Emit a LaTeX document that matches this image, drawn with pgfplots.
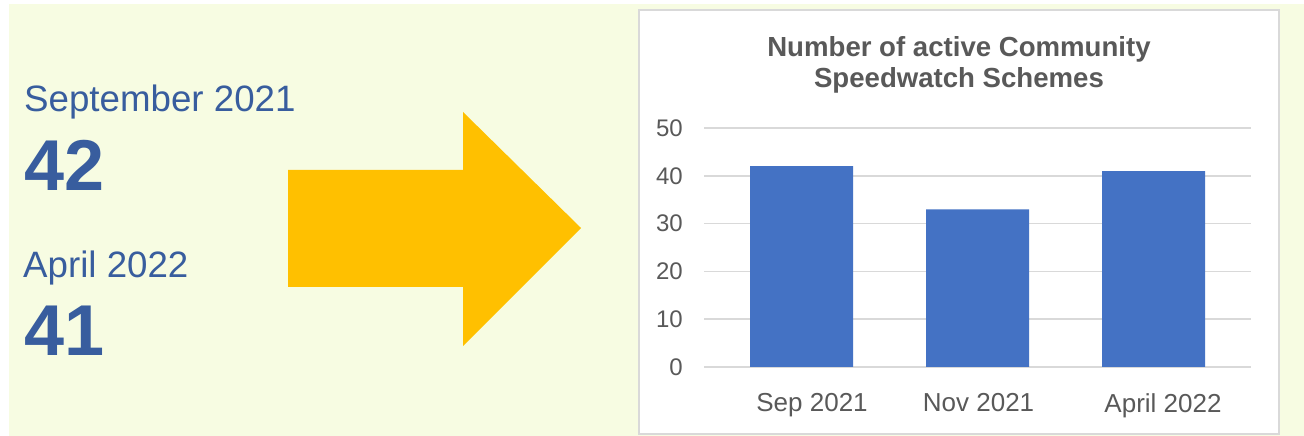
\documentclass[border=0pt]{standalone}
\usepackage{fontspec}
\setmainfont{Liberation Sans}
\usepackage{pgfplots}
\pgfplotsset{compat=1.18}
\definecolor{bgYellow}{RGB}{247,252,226}
\definecolor{arrowGold}{RGB}{255,192,0}
\definecolor{textBlue}{RGB}{56,93,158}
\definecolor{barBlue}{RGB}{68,114,196}
\definecolor{labelGrey}{RGB}{89,89,89}
\definecolor{gridGrey}{RGB}{217,217,217}
\definecolor{boxGrey}{RGB}{217,217,217}

\begin{document}
\begin{tikzpicture}
  \begin{scope}[x=1pt,y=1pt]
  \path[use as bounding box] (0,0) rectangle (1304,436);
  \fill[white] (0,0) rectangle (1304,436);
  \fill[bgYellow] (9,0) rectangle (1304,432);

  % left summary
  \node[anchor=base west, inner sep=0pt, text=textBlue]
    at (24,324) {\fontsize{36.7}{40}\selectfont September 2021};
  \node[anchor=base west, inner sep=0pt, text=textBlue]
    at (24,245) {\fontsize{72}{80}\selectfont\bfseries 42};
  \node[anchor=base west, inner sep=0pt, text=textBlue]
    at (23,158) {\fontsize{36.7}{40}\selectfont April 2022};
  \node[anchor=base west, inner sep=0pt, text=textBlue]
    at (24,80) {\fontsize{72}{80}\selectfont\bfseries 41};

  % arrow
  \fill[arrowGold] (288,266) -- (463,266) -- (463,324) -- (581,208)
    -- (463,90) -- (463,149) -- (288,149) -- cycle;

  % chart frame
  \filldraw[fill=white, draw=boxGrey, line width=1.5pt] (639,2) rectangle (1279,426);

  % title
  \node[anchor=base, inner sep=0pt, text=labelGrey]
    at (959,379) {\fontsize{27.6}{31}\selectfont\bfseries Number of active Community};
  \node[anchor=base, inner sep=0pt, text=labelGrey]
    at (959,348) {\fontsize{27.6}{31}\selectfont\bfseries Speedwatch Schemes};
  \end{scope}

  \begin{axis}[
    at={(704pt,69pt)},
    anchor=south west,
    scale only axis,
    width=547pt,
    height=239pt,
    xmin=-0.554, xmax=2.554,
    ymin=0, ymax=50,
    ytick={0,10,20,30,40,50},
    xtick={0.06,1.006,2.054},
    xticklabels={Sep 2021, Nov 2021, April 2022},
    ymajorgrids,
    grid style={draw=gridGrey, line width=1.5pt},
    axis line style={draw=none},
    major tick length=0pt,
    /pgf/number format/assume math mode=true,
    ticklabel style={text=labelGrey, inner sep=0pt},
    yticklabel style={font=\fontsize{24}{28}\selectfont, anchor=east, xshift=-21pt},
    xticklabel style={font=\fontsize{26}{30}\selectfont, anchor=north, yshift=-26pt},
    ybar,
    bar width=103pt,
    bar shift=0pt,
  ]
    \addplot[fill=barBlue, draw=none] coordinates {(0,42) (1,33) (2,41)};
  \end{axis}
\end{tikzpicture}
\end{document}
